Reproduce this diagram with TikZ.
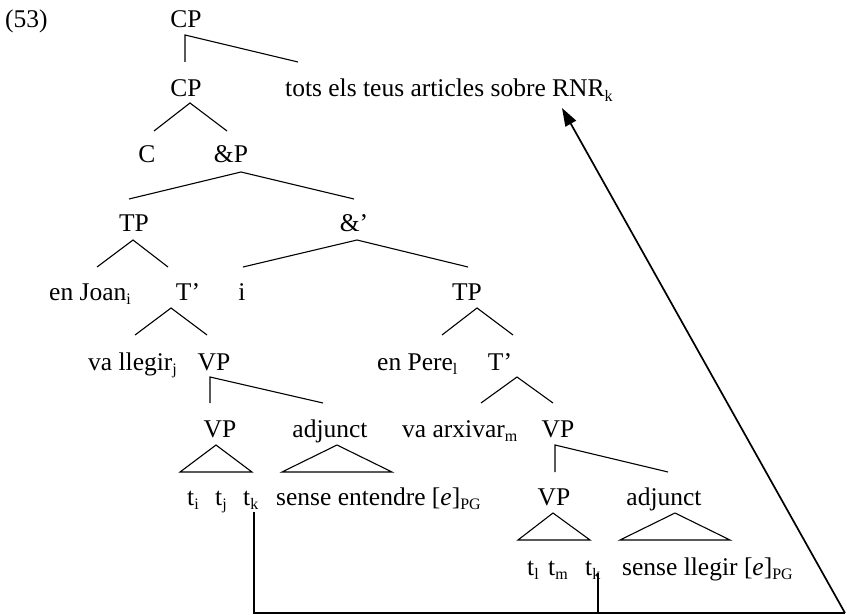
\documentclass[tikz,border=0pt]{standalone}
\usepackage{fontspec}
\setmainfont{Liberation Serif}
\usetikzlibrary{arrows.meta}
\newcommand\lsub[1]{\raisebox{-4.5pt}{\fontsize{16}{16}\selectfont #1}}
\begin{document}
\begin{tikzpicture}[x=1pt,y=-1pt,
  lab/.style={inner sep=0pt,anchor=base,font=\fontsize{25.5}{28}\selectfont},
  labw/.style={lab,anchor=base west},
  br/.style={line width=1.1pt},
  mv/.style={line width=1.7pt,line join=miter}]
\useasboundingbox (0,0) rectangle (847,615);
% nodes
\node[labw] (n53) at (5,28) {(53)};
\node[lab] (cpA) at (186,28) {CP};
\node[lab] (cpB) at (186,97) {CP};
\node[labw] (tots) at (285,97) {tots els teus articles sobre RNR\lsub{k}};
\node[lab] (c) at (147,163) {C};
\node[lab] (andP) at (231,163) {\&P};
\node[lab] (tpA) at (134,232) {TP};
\node[lab] (andbar) at (354,232) {\&’};
\node[labw] (joan) at (49,300) {en Joan\lsub{i}};
\node[lab] (tbarA) at (188,300) {T’};
\node[lab] (iconj) at (242,300) {i};
\node[lab] (tpB) at (467,300) {TP};
\node[labw] (llegir) at (88,370) {va llegir\lsub{j}};
\node[lab] (vpA) at (214,370) {VP};
\node[labw] (pere) at (377,370) {en Pere\lsub{l}};
\node[lab] (tbarB) at (500,370) {T’};
\node[lab] (vpA2) at (220,437) {VP};
\node[lab] (adjA) at (330,437) {adjunct};
\node[labw] (arxivar) at (402,437) {va arxivar\lsub{m}};
\node[lab] (vpB) at (558,437) {VP};
\node[labw] (ti) at (187,505) {t\lsub{i}};
\node[labw] (tj) at (215,505) {t\lsub{j}};
\node[labw] (tkA) at (243,505) {t\lsub{k}};
\node[labw] (senseA) at (276,505) {sense entendre [\textit{e}]\lsub{PG}};
\node[lab] (vpB2) at (554,505) {VP};
\node[lab] (adjB) at (664,505) {adjunct};
\node[labw] (tl) at (527,575) {t\lsub{l}};
\node[labw] (tm) at (548,575) {t\lsub{m}};
\node[labw] (tkB) at (585,575) {t\lsub{k}};
\node[labw] (senseB) at (622,575) {sense llegir [\textit{e}]\lsub{PG}};
% branch coordinates
\coordinate (a1) at (185,35); \coordinate (a1l) at (185,62); \coordinate (a1r) at (298,62);
\coordinate (a2) at (190,103); \coordinate (a2l) at (154,131); \coordinate (a2r) at (227,131);
\coordinate (a3) at (241,172); \coordinate (a3l) at (129,199); \coordinate (a3r) at (354,199);
\coordinate (a4) at (133,240); \coordinate (a4l) at (97,267); \coordinate (a4r) at (168,267);
\coordinate (a5) at (357,240); \coordinate (a5l) at (243,267); \coordinate (a5r) at (468,267);
\coordinate (a6) at (171,308); \coordinate (a6l) at (135,335); \coordinate (a6r) at (207,335);
\coordinate (a7) at (477,308); \coordinate (a7l) at (442,335); \coordinate (a7r) at (513,335);
\coordinate (a8) at (210,377); \coordinate (a8l) at (210,403); \coordinate (a8r) at (323,403);
\coordinate (a9) at (517,377); \coordinate (a9l) at (481,403); \coordinate (a9r) at (553,403);
\coordinate (a10) at (216,445); \coordinate (a10l) at (180,472); \coordinate (a10r) at (252,472);
\coordinate (a11) at (337,445); \coordinate (a11l) at (282,472); \coordinate (a11r) at (392,472);
\coordinate (a12) at (555,445); \coordinate (a12l) at (555,472); \coordinate (a12r) at (668,472);
\coordinate (a13) at (553,513); \coordinate (a13l) at (518,540); \coordinate (a13r) at (590,540);
\coordinate (a14) at (675,513); \coordinate (a14l) at (620,540); \coordinate (a14r) at (730,540);
% branches
\draw[br] (a1l) -- (a1) -- (a1r);
\draw[br] (a2l) -- (a2) -- (a2r);
\draw[br] (a3l) -- (a3) -- (a3r);
\draw[br] (a4l) -- (a4) -- (a4r);
\draw[br] (a5l) -- (a5) -- (a5r);
\draw[br] (a6l) -- (a6) -- (a6r);
\draw[br] (a7l) -- (a7) -- (a7r);
\draw[br] (a8l) -- (a8) -- (a8r);
\draw[br] (a9l) -- (a9) -- (a9r);
\draw[br] (a10l) -- (a10) -- (a10r) -- cycle;
\draw[br] (a11l) -- (a11) -- (a11r) -- cycle;
\draw[br] (a12l) -- (a12) -- (a12r);
\draw[br] (a13l) -- (a13) -- (a13r) -- cycle;
\draw[br] (a14l) -- (a14) -- (a14r) -- cycle;
% movement
\coordinate (kA) at (254,512);
\coordinate (kB) at (598,573);
\coordinate (cA) at (254,613);
\coordinate (cB) at (598,613);
\coordinate (cR) at (845,613);
\coordinate (tip) at (562,108);
\draw[mv] (kA) -- (cA) -- (cR);
\draw[mv] (kB) -- (cB);
\draw[mv,-{Triangle[length=18pt,width=12pt]}] (cR) -- (tip);
\end{tikzpicture}
\end{document}
